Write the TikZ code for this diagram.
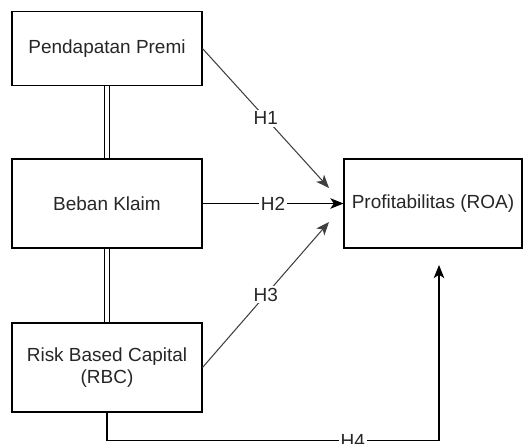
\documentclass[tikz,border=0pt]{standalone}
\usepackage{fontspec}
\setmainfont{Liberation Sans}
\newfontfamily\judulfont{Liberation Serif}
\usetikzlibrary{arrows.meta}

\tikzset{
  kotak/.style={draw, line width=0.6pt, inner sep=0pt, align=center,
    text=black!85, font=\fontsize{10.8}{12.5}\selectfont},
  label h/.style={fill=white, inner sep=1pt, text=black!85,
    font=\fontsize{10.8}{12.5}\selectfont},
  panah/.style={line width=0.6pt, -{Stealth[length=7.5pt,width=6pt,inset=2pt]}},
  ganda/.style={double, double distance=2.6pt, line width=0.6pt}
}

\begin{document}
\begin{tikzpicture}[x=0.02cm, y=-0.02cm]
    \useasboundingbox (0,0) rectangle (524,443);

    % judul (terpotong di tepi atas)
    \node[anchor=base east, inner sep=0pt, font=\judulfont\bfseries\fontsize{12}{14}\selectfont] (judul) at (125,-6) {Kerangka};

    \node[kotak, minimum width=3.8cm, minimum height=1.48cm] (premi) at (107,48.5) {Pendapatan Premi};
    \node[kotak, minimum width=3.8cm, minimum height=1.78cm] (beban) at (107,203.5) {Beban Klaim};
    \node[kotak, minimum width=3.8cm, minimum height=1.78cm] (rbc) at (107,367.5) {Risk Based Capital\\(RBC)};
    \node[kotak, minimum width=3.56cm, minimum height=1.78cm] (roa) at (433,203.5) {Profitabilitas (ROA)};

    \coordinate (t1) at (329,188);
    \coordinate (t3) at (329,222);
    \coordinate (t4) at (439,265);

    \draw[ganda] (premi.south) -- (beban.north);
    \draw[ganda] (beban.south) -- (rbc.north);

    \draw[panah, black!75] (premi.east) -- node[label h]{H1} (t1);
    \draw[panah] (beban.east) -- node[label h]{H2} (roa.west);
    \draw[panah, black!75] (rbc.east) -- node[label h]{H3} (t3);
    \draw[panah] (rbc.south) -- ++(0,28) -| node[label h, pos=0.37]{H4} (t4);

\end{tikzpicture}
\end{document}
